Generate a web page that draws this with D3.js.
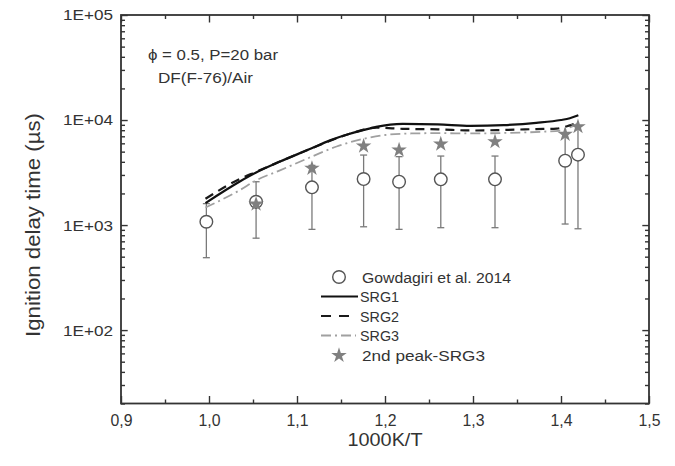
<!DOCTYPE html>
<html><head><meta charset="utf-8">
<script src="https://cdn.jsdelivr.net/npm/d3@7"></script>
<style>body{margin:0;background:#fff}</style>
</head><body><svg id="c" width="675" height="466"></svg>
<script>
// ---- data ----
const expX = [0.997, 1.0535, 1.117, 1.1757, 1.216, 1.2634, 1.325, 1.4047, 1.4193];
const expY = [1075, 1667, 2286, 2742, 2587, 2724, 2724, 4100, 4680];
const errLow = [489, 750, 910, 963, 910, 944, 944, 1023, 922];
const errHigh = [1600, 2585, 3700, 4640, 4480, 4540, 4540, 7400, 8800];

const starX = [1.0535, 1.117, 1.1757, 1.216, 1.2634, 1.325, 1.4047, 1.4193];
const starY = [1585, 3467, 5650, 5180, 5910, 6220, 7300, 8640];

const srg1X = [0.996, 1.035, 1.053, 1.08, 1.116, 1.1375, 1.16, 1.175, 1.19, 1.22, 1.26, 1.297, 1.335, 1.372, 1.40, 1.41, 1.4197];
const srg1Y = [1620, 2600, 3150, 4000, 5350, 6400, 7400, 8000, 8600, 9200, 9100, 8800, 8950, 9400, 10000, 10400, 11100];

const srg2X = [0.996, 1.035, 1.053, 1.08, 1.116, 1.16, 1.19, 1.22, 1.26, 1.30, 1.335, 1.372, 1.395, 1.41, 1.4197];
const srg2Y = [1780, 2750, 3200, 4000, 5350, 7400, 8450, 8250, 8150, 7950, 8050, 8200, 8300, 8900, 9500];

const srg3X = [0.996, 1.035, 1.053, 1.08, 1.116, 1.145, 1.175, 1.20, 1.23, 1.26, 1.30, 1.34, 1.38, 1.40, 1.41, 1.4197];
const srg3Y = [1470, 2150, 2650, 3300, 4450, 5600, 6600, 7200, 7450, 7500, 7450, 7550, 7750, 7950, 8500, 9300];

const xMajor = [0.9, 1.0, 1.1, 1.2, 1.3, 1.4, 1.5];
const xMinor = [0.95, 1.05, 1.15, 1.25, 1.35, 1.45];
const yMajor = [1e2, 1e3, 1e4, 1e5];
const yTickLabels = ["1E+02", "1E+03", "1E+04", "1E+05"];
const legendLabels = ["Gowdagiri et al. 2014", "SRG1", "SRG2", "SRG3", "2nd peak-SRG3"];

// ---- layout ----
const L = 121, R = 649, T = 15, B = 403.5;
const FONT = "'Liberation Sans', Arial, Helvetica, sans-serif";
const svg = d3.select("#c").style("font-family", FONT);
svg.append("rect").attr("width", 675).attr("height", 466).attr("fill", "#fff");

const x = d3.scaleLinear().domain([0.9, 1.5]).range([L, R]);
const y = d3.scaleLog().domain([20, 1e5]).range([B, T]);

const yMinor = [];
[10, 100, 1000, 10000].forEach(d => { for (let k = 2; k <= 9; k++) { const v = d * k; if (v >= 20 && v < 1e5) yMinor.push(v); } });

const axisColor = "#333";
function styleAxis(g) {
  g.select(".domain").remove();
  g.selectAll(".tick line").attr("stroke", axisColor).attr("stroke-width", 1.4);
}
// bottom
svg.append("g").attr("transform", `translate(0,${B})`)
  .call(d3.axisBottom(x).tickValues(xMajor).tickSize(-7.5).tickSizeOuter(0).tickPadding(11)
    .tickFormat(d => d.toFixed(1).replace(".", ",")))
  .call(styleAxis)
  .call(g => g.selectAll("text").attr("font-size", 16).attr("fill", "#333")
    .attr("font-family", FONT).attr("textLength", 22).attr("lengthAdjust", "spacingAndGlyphs"));
svg.append("g").attr("transform", `translate(0,${B})`)
  .call(d3.axisBottom(x).tickValues(xMinor).tickSize(-4).tickSizeOuter(0).tickFormat(""))
  .call(styleAxis);
// top
svg.append("g").attr("transform", `translate(0,${T})`)
  .call(d3.axisTop(x).tickValues(xMajor).tickSize(-7.5).tickSizeOuter(0).tickFormat(""))
  .call(styleAxis);
svg.append("g").attr("transform", `translate(0,${T})`)
  .call(d3.axisTop(x).tickValues(xMinor).tickSize(-4).tickSizeOuter(0).tickFormat(""))
  .call(styleAxis);
// left
svg.append("g").attr("transform", `translate(${L},0)`)
  .call(d3.axisLeft(y).tickValues(yMajor).tickSize(-6.7).tickSizeOuter(0).tickPadding(8)
    .tickFormat((d, i) => yTickLabels[i]))
  .call(styleAxis)
  .call(g => g.selectAll("text").attr("font-size", 15.5).attr("fill", "#333")
    .attr("font-family", FONT).attr("textLength", 50).attr("lengthAdjust", "spacingAndGlyphs"));
svg.append("g").attr("transform", `translate(${L},0)`)
  .call(d3.axisLeft(y).tickValues(yMinor).tickSize(-4).tickSizeOuter(0).tickFormat(""))
  .call(styleAxis);
// right
svg.append("g").attr("transform", `translate(${R},0)`)
  .call(d3.axisRight(y).tickValues(yMajor).tickSize(-6.7).tickSizeOuter(0).tickFormat(""))
  .call(styleAxis);
svg.append("g").attr("transform", `translate(${R},0)`)
  .call(d3.axisRight(y).tickValues(yMinor).tickSize(-4).tickSizeOuter(0).tickFormat(""))
  .call(styleAxis);

// frame
svg.append("rect").attr("x", L).attr("y", T).attr("width", R - L).attr("height", B - T)
  .attr("fill", "none").attr("stroke", axisColor).attr("stroke-width", 1.8);

// axis titles
svg.append("text").attr("transform", `translate(33,225) rotate(-90)`)
  .attr("text-anchor", "middle").attr("dominant-baseline", "central")
  .attr("font-size", 20).attr("fill", "#333")
  .attr("textLength", 224).attr("lengthAdjust", "spacingAndGlyphs")
  .text("Ignition delay time (µs)");
svg.append("text").attr("x", (L + R) / 2).attr("y", 446)
  .attr("text-anchor", "middle").attr("font-size", 19).attr("fill", "#333")
  .attr("textLength", 75).attr("lengthAdjust", "spacingAndGlyphs")
  .text("1000K/T");

// annotation
svg.append("text").attr("x", 148).attr("y", 59.5).attr("font-size", 15.5).attr("fill", "#333")
  .attr("textLength", 130).attr("lengthAdjust", "spacingAndGlyphs")
  .text("ϕ = 0.5, P=20 bar");
svg.append("text").attr("x", 158).attr("y", 82.5).attr("font-size", 15.5).attr("fill", "#333")
  .attr("textLength", 95).attr("lengthAdjust", "spacingAndGlyphs")
  .text("DF(F-76)/Air");

// error bars
const exp = expX.map((d, i) => ({ x: d, y: expY[i], lo: errLow[i], hi: errHigh[i] }));
const eb = svg.append("g").attr("stroke", "#7a7a7a").attr("stroke-width", 1.3);
exp.forEach(d => {
  eb.append("line").attr("x1", x(d.x)).attr("x2", x(d.x)).attr("y1", y(d.lo)).attr("y2", y(d.hi));
  eb.append("line").attr("x1", x(d.x) - 3.5).attr("x2", x(d.x) + 3.5).attr("y1", y(d.lo)).attr("y2", y(d.lo));
  eb.append("line").attr("x1", x(d.x) - 3.5).attr("x2", x(d.x) + 3.5).attr("y1", y(d.hi)).attr("y2", y(d.hi));
});

// lines
const line = d3.line().x(d => x(d[0])).y(d => y(d[1])).curve(d3.curveMonotoneX);
const zip = (a, b) => a.map((v, i) => [v, b[i]]);
svg.append("path").attr("d", line(zip(srg3X, srg3Y))).attr("fill", "none")
  .attr("stroke", "#a0a0a0").attr("stroke-width", 1.8).attr("stroke-dasharray", "10,4,2,4");
svg.append("path").attr("d", line(zip(srg2X, srg2Y))).attr("fill", "none")
  .attr("stroke", "#1a1a1a").attr("stroke-width", 2.2).attr("stroke-dasharray", "9,6");
svg.append("path").attr("d", line(zip(srg1X, srg1Y))).attr("fill", "none")
  .attr("stroke", "#111").attr("stroke-width", 2.2);

// circles
svg.append("g").selectAll("circle").data(exp).join("circle")
  .attr("cx", d => x(d.x)).attr("cy", d => y(d.y)).attr("r", 6.3)
  .attr("fill", "#fff").attr("stroke", "#555").attr("stroke-width", 1.4);

// stars
const star = d3.symbol().type(d3.symbolStar).size(75);
svg.append("g").selectAll("path").data(starX.map((d, i) => [d, starY[i]])).join("path")
  .attr("d", star).attr("transform", d => `translate(${x(d[0])},${y(d[1])})`)
  .attr("fill", "#808080");

// legend
const lg = svg.append("g").attr("font-size", 15.5).attr("fill", "#333");
const ly = [277, 296.5, 316, 335.5, 355.5];
lg.append("circle").attr("cx", 339).attr("cy", ly[0]).attr("r", 6.3)
  .attr("fill", "#fff").attr("stroke", "#555").attr("stroke-width", 1.4);
lg.append("line").attr("x1", 321).attr("x2", 358).attr("y1", ly[1]).attr("y2", ly[1])
  .attr("stroke", "#111").attr("stroke-width", 2.2);
lg.append("line").attr("x1", 321).attr("x2", 353).attr("y1", ly[2]).attr("y2", ly[2])
  .attr("stroke", "#1a1a1a").attr("stroke-width", 2.2).attr("stroke-dasharray", "10,8");
lg.append("line").attr("x1", 321).attr("x2", 356).attr("y1", ly[3]).attr("y2", ly[3])
  .attr("stroke", "#a0a0a0").attr("stroke-width", 1.8).attr("stroke-dasharray", "10,4,2,4");
lg.append("path").attr("d", star).attr("transform", `translate(339,${ly[4]})`).attr("fill", "#808080");
const lx = [362, 360, 360, 360, 362];
const lw = [149, 39, 39, 39, 123];
legendLabels.forEach((t, i) => {
  lg.append("text").attr("x", lx[i]).attr("y", ly[i]).attr("dominant-baseline", "central")
    .attr("textLength", lw[i]).attr("lengthAdjust", "spacingAndGlyphs").text(t);
});
</script></body></html>
